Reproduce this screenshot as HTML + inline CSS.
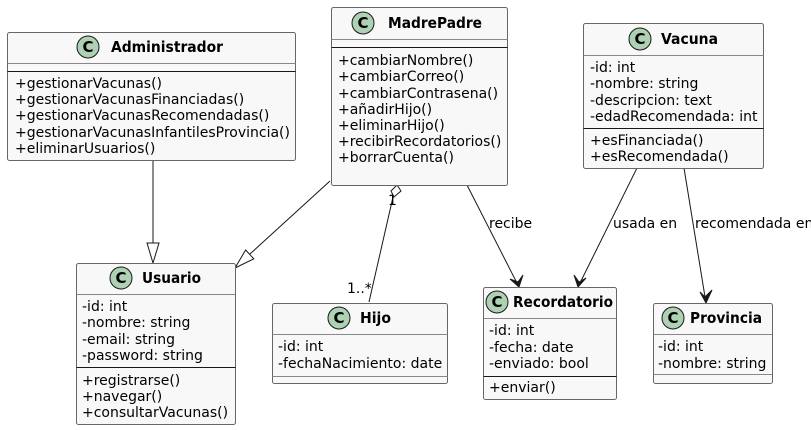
<!DOCTYPE html>
<html><head><meta charset="utf-8"><style>
html,body{margin:0;padding:0;background:#fff;}
svg{display:block;}
text{font-family:"DejaVu Sans","Liberation Sans",sans-serif;font-size:14px;fill:#000;}
.b{font-weight:bold;font-size:15px;}
.box{fill:#F8F8F8;stroke:#666;stroke-width:1;}
.ln{stroke:#181818;stroke-width:1;fill:none;}
.sep{stroke:#181818;stroke-width:1;}
.hs{stroke:#888;stroke-width:1;}
.ci{fill:#ADD1B2;stroke:#181818;stroke-width:1;}
.cc{font-weight:bold;font-size:15px;text-anchor:middle;}
</style></head><body>
<svg width="811" height="430" viewBox="0 0 811 430" xmlns="http://www.w3.org/2000/svg">
<!-- connectors -->
<line class="ln" x1="153" y1="160" x2="153" y2="243"/>
<polygon points="147,243 159,243 153,263" fill="#fff" stroke="#181818"/>
<line class="ln" x1="330" y1="181" x2="250" y2="254"/>
<polygon points="235,268 253.8,258.8 245.6,250" fill="#fff" stroke="#181818"/>
<line class="ln" x1="393" y1="197" x2="369" y2="302"/>
<polygon points="397,185 401,191 394,197 391,191" fill="#fff" stroke="#181818"/>
<text x="388" y="205">1</text>
<text x="347" y="293">1..*</text>
<line class="ln" x1="467" y1="185" x2="519" y2="287"/>
<polygon points="519,287 510,279 518,282 523,275" fill="#181818" stroke="#181818"/>
<text x="489" y="228">recibe</text>
<line class="ln" x1="637" y1="168" x2="578" y2="287"/>
<polygon points="578,287 574,275 579,282 586,278" fill="#181818" stroke="#181818"/>
<text x="613" y="228">usada en</text>
<line class="ln" x1="684" y1="168" x2="706" y2="303"/>
<polygon points="706,303 700,292 705,297 712,290" fill="#181818" stroke="#181818"/>
<text x="695" y="228">recomendada en</text>

<!-- Administrador -->
<rect class="box" x="7.5" y="32.5" width="288" height="128" rx="2"/>
<line class="hs" x1="7.5" y1="63.5" x2="295.5" y2="63.5"/>
<line class="sep" x1="7.5" y1="71.5" x2="295.5" y2="71.5"/>
<circle class="ci" cx="88" cy="47" r="11"/><text class="cc" x="88" y="52">C</text>
<text class="b" x="111" y="52" textLength="112" lengthAdjust="spacingAndGlyphs">Administrador</text>
<text x="15" y="88">+gestionarVacunas()</text>
<text x="15" y="104">+gestionarVacunasFinanciadas()</text>
<text x="15" y="120">+gestionarVacunasRecomendadas()</text>
<text x="15" y="137">+gestionarVacunasInfantilesProvincia()</text>
<text x="15" y="153">+eliminarUsuarios()</text>

<!-- MadrePadre -->
<rect class="box" x="331.5" y="7.5" width="176" height="178" rx="2"/>
<line class="hs" x1="331.5" y1="39.5" x2="507.5" y2="39.5"/>
<line class="sep" x1="331.5" y1="47.5" x2="507.5" y2="47.5"/>
<circle class="ci" cx="363" cy="23" r="11"/><text class="cc" x="363" y="28">C</text>
<text class="b" x="388" y="28" textLength="94" lengthAdjust="spacingAndGlyphs">MadrePadre</text>
<text x="338" y="65">+cambiarNombre()</text>
<text x="338" y="81">+cambiarCorreo()</text>
<text x="338" y="98">+cambiarContrasena()</text>
<text x="338" y="114">+añadirHijo()</text>
<text x="338" y="130">+eliminarHijo()</text>
<text x="338" y="146">+recibirRecordatorios()</text>
<text x="338" y="162">+borrarCuenta()</text>

<!-- Vacuna -->
<rect class="box" x="583.5" y="23.5" width="180" height="145" rx="2"/>
<line class="hs" x1="583.5" y1="55.5" x2="763.5" y2="55.5"/>
<circle class="ci" cx="640" cy="39" r="11"/><text class="cc" x="640" y="44">C</text>
<text class="b" x="661" y="44" textLength="57" lengthAdjust="spacingAndGlyphs">Vacuna</text>
<text x="590" y="72">-id: int</text>
<text x="590" y="88">-nombre: string</text>
<text x="590" y="105">-descripcion: text</text>
<text x="590" y="121">-edadRecomendada: int</text>
<line class="sep" x1="583.5" y1="128.5" x2="763.5" y2="128.5"/>
<text x="590" y="145">+esFinanciada()</text>
<text x="590" y="161">+esRecomendada()</text>

<!-- Usuario -->
<rect class="box" x="76.5" y="263.5" width="159" height="161" rx="2"/>
<line class="hs" x1="76.5" y1="294.5" x2="235.5" y2="294.5"/>
<circle class="ci" cx="121" cy="278" r="11"/><text class="cc" x="121" y="283">C</text>
<text class="b" x="142" y="283" textLength="59" lengthAdjust="spacingAndGlyphs">Usuario</text>
<text x="82" y="311">-id: int</text>
<text x="82" y="327">-nombre: string</text>
<text x="82" y="344">-email: string</text>
<text x="82" y="360">-password: string</text>
<line class="sep" x1="76.5" y1="367.5" x2="235.5" y2="367.5"/>
<text x="82" y="385">+registrarse()</text>
<text x="82" y="401">+navegar()</text>
<text x="82" y="417">+consultarVacunas()</text>

<!-- Hijo -->
<rect class="box" x="272.5" y="303.5" width="175" height="80" rx="2"/>
<line class="hs" x1="272.5" y1="334.5" x2="447.5" y2="334.5"/>
<circle class="ci" cx="339" cy="318" r="11"/><text class="cc" x="339" y="323">C</text>
<text class="b" x="360" y="323" textLength="31" lengthAdjust="spacingAndGlyphs">Hijo</text>
<text x="278" y="351">-id: int</text>
<text x="278" y="368">-fechaNacimiento: date</text>
<line class="hs" x1="272.5" y1="376.5" x2="447.5" y2="376.5"/>

<!-- Recordatorio -->
<rect class="box" x="483.5" y="287.5" width="133" height="112" rx="2"/>
<line class="hs" x1="483.5" y1="318.5" x2="616.5" y2="318.5"/>
<circle class="ci" cx="497" cy="302" r="11"/><text class="cc" x="497" y="307">C</text>
<text class="b" x="513" y="307" textLength="100" lengthAdjust="spacingAndGlyphs">Recordatorio</text>
<text x="489" y="335">-id: int</text>
<text x="489" y="352">-fecha: date</text>
<text x="489" y="368">-enviado: bool</text>
<line class="sep" x1="483.5" y1="376.5" x2="616.5" y2="376.5"/>
<text x="489" y="392">+enviar()</text>

<!-- Provincia -->
<rect class="box" x="653.5" y="303.5" width="119" height="80" rx="2"/>
<line class="hs" x1="653.5" y1="334.5" x2="772.5" y2="334.5"/>
<circle class="ci" cx="673" cy="318" r="11"/><text class="cc" x="673" y="323">C</text>
<text class="b" x="690" y="323" textLength="72" lengthAdjust="spacingAndGlyphs">Provincia</text>
<text x="658" y="351">-id: int</text>
<text x="658" y="368">-nombre: string</text>
<line class="hs" x1="653.5" y1="374.5" x2="772.5" y2="374.5"/>
</svg>
</body></html>
